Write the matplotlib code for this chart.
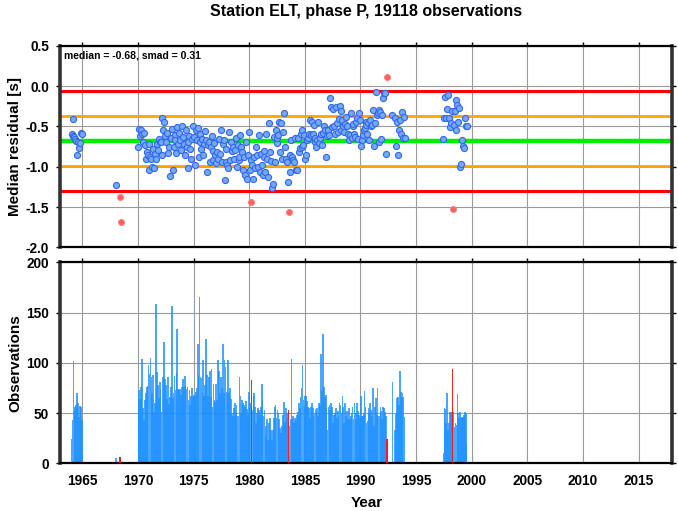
import numpy as np
import matplotlib
matplotlib.use('Agg')
import matplotlib.pyplot as plt

plt.rcParams['font.family'] = ['Liberation Sans', 'DejaVu Sans']
plt.rcParams['axes.unicode_minus'] = False

# station statistics
med = -0.68
smad = 0.31
title = 'Station ELT, phase P, 19118 observations'

# monthly observation counts and monthly median residuals (Jan..Dec), one row per year
n = None

years_a = [1964]
counts_a = [[24, 43, 102, 52, 56, 58, 70, 60, 46, 57, 56, 43]]
resid_a = [[-0.59, -0.62, -0.41, -0.63, -0.66, -0.68, -0.85, -0.70, -0.77, -0.71, -0.58, -0.60]]

years_b = [1968]
counts_b = [[5, 0, 0, 0, 6, 5, 0, 0, 0, 0, 0, 0]]
resid_b = [[-1.23, n, n, n, -1.37, -1.69, n, n, n, n, n, n]]

years_c = list(range(1970, 1994))
counts_c = [
    [58, 73, 64, 76, 104, 55, 43, 63, 70, 76, 77, 98],
    [89, 105, 86, 70, 88, 51, 60, 159, 91, 78, 65, 81],
    [73, 51, 86, 87, 121, 84, 78, 64, 86, 59, 66, 76],
    [157, 65, 70, 87, 73, 90, 134, 74, 73, 74, 68, 76],
    [84, 76, 87, 77, 74, 76, 63, 73, 58, 67, 75, 66],
    [68, 67, 71, 75, 119, 88, 166, 86, 85, 70, 103, 67],
    [78, 124, 88, 67, 86, 92, 66, 94, 56, 79, 63, 61],
    [79, 63, 103, 92, 70, 86, 75, 119, 70, 103, 96, 71],
    [71, 103, 70, 75, 64, 50, 47, 55, 60, 51, 58, 47],
    [47, 86, 67, 50, 63, 60, 58, 56, 62, 54, 48, 71],
    [56, 60, 83, 53, 67, 70, 56, 40, 50, 55, 53, 48],
    [56, 79, 63, 47, 53, 27, 37, 44, 23, 40, 45, 33],
    [23, 33, 45, 56, 58, 45, 53, 50, 44, 35, 30, 37],
    [48, 61, 41, 55, 50, 45, 53, 37, 44, 104, 44, 47],
    [40, 45, 43, 48, 51, 60, 55, 66, 75, 98, 63, 56],
    [67, 67, 62, 56, 55, 45, 56, 60, 55, 47, 50, 54],
    [51, 55, 47, 60, 58, 109, 72, 129, 76, 66, 68, 55],
    [33, 56, 58, 53, 60, 56, 40, 48, 50, 55, 45, 52],
    [47, 60, 58, 50, 67, 56, 40, 60, 47, 52, 44, 55],
    [44, 47, 50, 56, 44, 60, 44, 50, 60, 52, 48, 45],
    [67, 47, 47, 50, 72, 56, 40, 42, 55, 49, 60, 53],
    [47, 75, 37, 56, 65, 48, 75, 47, 47, 56, 52, 44],
    [56, 55, 51, 47, 24, 0, 0, 0, 0, 0, 81, 0],
    [0, 33, 49, 65, 66, 58, 92, 71, 66, 70, 66, 46],
]
resid_c = [
    [-0.75, -0.53, -0.62, -0.55, -0.60, -0.69, -0.58, -0.73, -0.90, -0.82, -0.86, -0.72],
    [-1.04, -0.88, -0.90, -1.00, -0.78, -1.02, -0.84, -0.90, -0.72, -0.79, -0.66, -0.70],
    [-0.69, -0.86, -0.39, -0.54, -0.44, -0.62, -0.69, -0.58, -0.83, -0.75, -1.12, -0.64],
    [-0.53, -1.04, -0.75, -0.61, -0.67, -0.83, -0.51, -0.72, -0.58, -0.67, -0.79, -0.50],
    [-0.63, -0.72, -0.86, -0.55, -0.75, -0.69, -1.02, -0.62, -0.78, -0.90, -0.66, -0.50],
    [-0.63, -0.98, -0.55, -0.67, -0.52, -0.88, -0.70, -0.60, -0.78, -0.66, -0.85, -0.72],
    [-0.56, -0.67, -1.06, -0.73, -0.69, -0.94, -0.75, -0.62, -0.92, -0.80, -0.71, -0.85],
    [-0.96, -0.82, -0.90, -0.66, -0.84, -0.54, -0.94, -0.72, -0.67, -1.17, -0.94, -0.78],
    [-0.98, -1.02, -0.57, -0.92, -0.69, -0.80, -0.75, -0.90, -0.79, -0.64, -1.00, -0.73],
    [-0.92, -0.88, -0.61, -0.75, -0.82, -1.04, -0.88, -1.10, -0.70, -1.15, -0.86, -0.57],
    [-1.04, -0.92, -1.44, -0.98, -1.15, -0.88, -1.02, -0.75, -0.86, -1.00, -0.61, -1.06],
    [-0.84, -0.98, -1.10, -0.80, -0.88, -1.06, -0.59, -0.90, -1.13, -0.46, -0.82, -0.93],
    [-1.27, -1.21, -0.63, -0.94, -0.55, -0.71, -0.65, -0.61, -0.44, -0.82, -0.46, -0.90],
    [-0.57, -0.33, -0.75, -0.90, -0.94, -1.19, -1.56, -1.06, -0.86, -0.67, -0.88, -0.92],
    [-0.94, -0.65, -1.04, -1.04, -0.65, -0.82, -0.77, -0.59, -0.75, -0.55, -0.73, -0.61],
    [-0.90, -0.86, -0.67, -0.65, -0.59, -0.42, -0.61, -0.45, -0.59, -0.48, -0.70, -0.65],
    [-0.75, -0.67, -0.45, -0.71, -0.65, -0.60, -0.73, -0.58, -0.50, -0.55, -0.88, -0.62],
    [-0.54, -0.55, -0.61, -0.15, -0.26, -0.51, -0.29, -0.50, -0.59, -0.26, -0.46, -0.57],
    [-0.41, -0.25, -0.55, -0.31, -0.42, -0.50, -0.57, -0.47, -0.38, -0.50, -0.59, -0.67],
    [-0.61, -0.33, -0.65, -0.50, -0.47, -0.59, -0.63, -0.45, -0.40, -0.66, -0.33, -0.42],
    [-0.74, -0.67, -0.61, -0.55, -0.52, -0.44, -0.48, -0.60, -0.46, -0.67, -0.42, -0.50],
    [-0.48, -0.30, -0.74, -0.46, -0.07, -0.36, -0.34, -0.69, -0.30, -0.32, -0.66, -0.36],
    [-0.15, -0.09, -0.08, -0.84, 0.11, n, n, n, n, n, -0.36, n],
    [n, -0.40, -0.74, -0.44, -0.86, -0.55, -0.42, -0.59, -0.32, -0.65, -0.38, -0.65],
]

years_d = [1997, 1998, 1999]
counts_d = [
    [0, 0, 0, 0, 0, 10, 55, 54, 40, 70, 33, 40],
    [51, 51, 51, 94, 51, 36, 40, 38, 69, 50, 45, 51],
    [45, 46, 46, 48, 51, 50, 19, 0, 0, 0, 0, 0],
]
resid_d = [
    [n, n, n, n, n, -0.66, -0.39, -0.14, -0.39, -0.29, -0.11, -0.39],
    [-0.51, -0.46, -0.31, -1.53, -0.48, -0.31, -0.17, -0.55, -0.24, -0.44, -0.27, -1.00],
    [-0.97, -0.67, -0.74, -0.77, -0.39, -0.50, -0.50, n, n, n, n, n],
]

# flatten to monthly series
t, cnt, res = [], [], []
for yrs, cs, rs in [(years_a, counts_a, resid_a), (years_b, counts_b, resid_b),
                    (years_c, counts_c, resid_c), (years_d, counts_d, resid_d)]:
    for y, crow, rrow in zip(yrs, cs, rs):
        for m in range(12):
            t.append(y + (m + 0.5) / 12.0)
            cnt.append(crow[m])
            res.append(np.nan if rrow[m] is None else rrow[m])
t = np.array(t)
cnt = np.array(cnt, dtype=float)
res = np.array(res, dtype=float)

has = ~np.isnan(res)
bad = has & ((res < med - 2 * smad) | (res > med + 2 * smad))
good = has & ~bad

fig = plt.figure(figsize=(6.78, 5.11), dpi=100)
ax1 = fig.add_axes([0.0885, 0.516, 0.9027, 0.3945])
ax2 = fig.add_axes([0.0885, 0.0933, 0.9027, 0.3933])

for ax in (ax1, ax2):
    ax.set_xlim(1963, 2018)
    ax.set_xticks(np.arange(1965, 2016, 5))
    ax.grid(True, color='#9a9a9a', lw=0.8)
    ax.set_axisbelow(True)
    ax.tick_params(direction='out', length=3, width=1, top=True, right=True, bottom=False,
                   labelsize=9.8, pad=5)
    for s in ('top', 'bottom'):
        ax.spines[s].set_linewidth(1.6)
        ax.spines[s].set_color('black')
    for s in ('left', 'right'):
        ax.spines[s].set_linewidth(2.6)
        ax.spines[s].set_color('#333333')

# top panel: median residuals
ax1.set_ylim(-2.0, 0.5)
ax1.set_yticks(np.arange(-2.0, 0.51, 0.5))
ax1.set_yticklabels(['%.1f' % v for v in np.arange(-2.0, 0.51, 0.5)], fontweight='bold')
ax1.tick_params(labelbottom=False)
ax1.axhline(med + 2 * smad, color='#ff0000', lw=2.2, zorder=2)
ax1.axhline(med - 2 * smad, color='#ff0000', lw=2.2, zorder=2)
ax1.axhline(med + smad, color='#ffa500', lw=2.0, zorder=2)
ax1.axhline(med - smad, color='#ffa500', lw=2.0, zorder=2)
ax1.axhline(med, color='#00ee00', lw=3.2, zorder=2)
ax1.plot(t[good], res[good], 'o', ms=4.4, mfc='#74aaf2', mec='#3366f0', mew=0.8, zorder=3)
ax1.plot(t[bad], res[bad], 'o', ms=4.4, mfc='#ff6262', mec='#ff8080', mew=0.6, zorder=3)
ax1.text(0.007, 0.975, 'median = %.2f, smad = %.2f' % (med, smad), transform=ax1.transAxes,
         fontsize=7.5, fontweight='bold', va='top', ha='left')

# bottom panel: monthly counts
redbar = bad
blue = (cnt > 0) & ~redbar
ax2.bar(t[blue], cnt[blue], width=1.8 / 12, color='#1e90ff', alpha=0.8, lw=0, zorder=2)
ax2.bar(t[redbar], cnt[redbar], width=1.6 / 12, color='#ff1010', alpha=0.95, lw=0, zorder=3)
ax2.set_ylim(0, 200)
ax2.set_yticks(np.arange(0, 201, 50))
ax2.set_yticklabels([str(v) for v in range(0, 201, 50)], fontweight='bold')
ax2.set_xticklabels([str(v) for v in range(1965, 2016, 5)], fontweight='bold')

fig.text(0.5405, 0.978, title, ha='center', va='center', fontsize=11.5, fontweight='bold')
fig.text(0.022, 0.516 + 0.3945 / 2, 'Median residual [s]', rotation=90, ha='center', va='center',
         fontsize=11, fontweight='bold')
fig.text(0.022, 0.0933 + 0.3933 / 2, 'Observations', rotation=90, ha='center', va='center',
         fontsize=11, fontweight='bold')
fig.text(0.5405, 0.016, 'Year', ha='center', va='center', fontsize=11, fontweight='bold')

fig.savefig('out.png', dpi=100)
